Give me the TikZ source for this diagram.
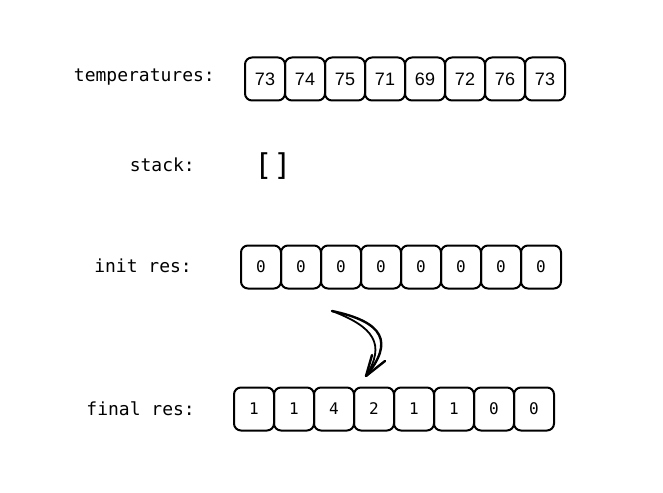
\documentclass[tikz,border=0pt]{standalone}
\usepackage{fontspec}
\setmonofont{DejaVu Sans Mono}
\newfontfamily\handfont{Liberation Sans}
\begin{document}
\begin{tikzpicture}[x=1pt,y=-1pt,
  cell/.style={draw=black,line width=2pt,rounded corners=7pt,minimum width=40pt,minimum height=43pt,inner sep=0pt,font=\ttfamily\fontsize{16}{16}\selectfont},
  tcell/.style={cell,font=\handfont\fontsize{18}{18}\selectfont},
  lbl/.style={anchor=east,font=\ttfamily\fontsize{18}{18}\selectfont,inner sep=0pt},
  stroke/.style={line width=2.4pt,line cap=round,line join=round}]
\useasboundingbox (0,0) rectangle (663,492);
\node[lbl] (lt) at (215,77) {temperatures:};
\node[lbl] (ls) at (195,165) {stack:};
\node[lbl] (li) at (192,266) {init res:};
\node[lbl] (lf) at (195,409) {final res:};
\foreach \v [count=\i from 0] in {73,74,75,71,69,72,76,73}
  \node[tcell] (t\i) at (265+40*\i,79) {\v};
\node[font=\ttfamily\fontsize{30}{30}\selectfont,inner sep=0pt] (st) at (273,166) {[\kern1pt]};
\foreach \v [count=\i from 0] in {0,0,0,0,0,0,0,0}
  \node[cell] (r\i) at (261+40*\i,267) {\v};
\foreach \v [count=\i from 0] in {1,1,4,2,1,1,0,0}
  \node[cell] (f\i) at (254+40*\i,409) {\v};
\coordinate (a0) at (332,311);
\coordinate (a1) at (366,376);
\coordinate (b1) at (372,355);
\coordinate (b2) at (385,361);
\draw[stroke] (a0) .. controls (384,322) and (394,342) .. (a1);
\draw[stroke,line width=1.8pt] (a0) .. controls (374,327) and (386,344) .. (a1);
\draw[stroke] (b1) -- (a1) -- (b2);
\end{tikzpicture}
\end{document}
